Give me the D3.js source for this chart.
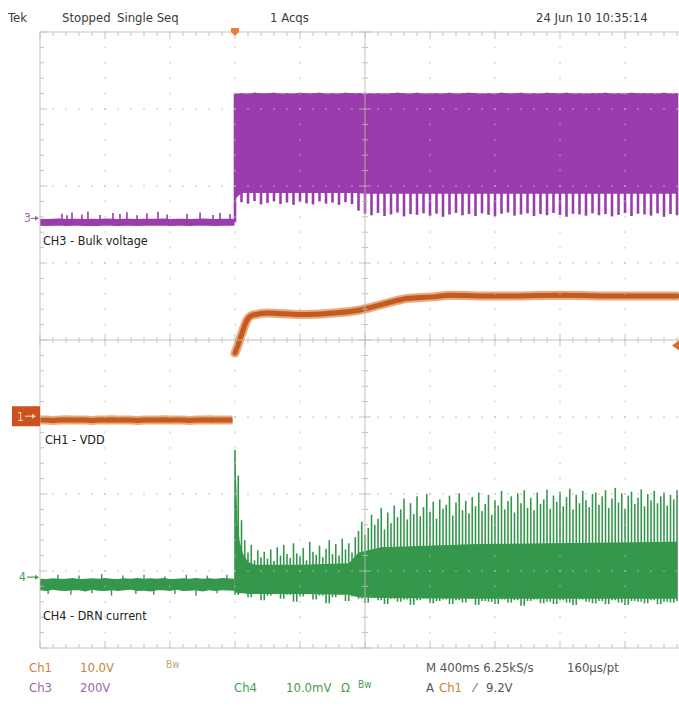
<!DOCTYPE html>
<html><head><meta charset="utf-8">
<script src="https://cdn.jsdelivr.net/npm/d3@7"></script>
<style>
html,body{margin:0;padding:0;background:#fff;}
svg{display:block;}
text{font-family:"Liberation Sans Narrow","Arial Narrow","DejaVu Sans Condensed",sans-serif;}
</style></head>
<body>
<svg id="c" width="679" height="707"></svg>
<script>
// ---------------- DATA ----------------
// time base: 400 ms/div, trigger at t=0 (3 divisions from left edge)
const timeDomain = [-1200, 2800];
const preStart = -1200, coarseDt = 40, fineDt = 20;

// CH3 bulk voltage (V), 200 V/div
const ch3Pre = [-10,-10.5,-10,-9.5,-10.5,-10,-10,-10.5,-10,-10.5,-9.5,-10,-10.5,-10,-10,-10.5,-10,-10,-10,-9.5,-10.5,-10,-10,-10.5,-10,-9.5,-10,-10.5,-10,-10];
const ch3PreSpikeT = [-1065,-1034,-1003,-942,-905,-831,-751,-708,-665,-603,-542,-474,-418,-295,-215,-135,-92,-31];
const ch3PreSpikeV = [12,8,15,10,18,9,14,11,16,8,13,17,10,12,15,9,14,11];
const ch3PostTop = [324,325,324,326,325,325,326,324,325,324,326,325,325,326,324,325,324,326,325,325,
  326,324,325,324,325,326,325,324,326,324,325,325,324,326,324,325,326,325,324,325,
  324,326,325,325,326,324,325,324,326,325,325,326,324,325,324,325,325,326,324,325,
  324,326,325,325,325,324,326,324,325];
const ch3PostTooth = [-10,42,38,45,36,40,44,37,41,35,43,39,36,44,38,41,35,42,37,
  20,12,8,14,6,10,15,5,11,9,13,7,12,4,10,14,8,11,6,13,9,5,12,15,7,10,13,6,11,8,
  14,9,4,12,10,7,13,8,11,5,9,14,6,12,10,7,13,4,11,8];
const ch3BaseT = [0, 40, 740, 780, 2720];
const ch3BaseV = [50, 66, 66, 64, 64];

// CH1 VDD (V), 10 V/div
const ch1Pre = [-0.5,-0.5,-0.55,-0.5,-0.45,-0.5,-0.5,-0.5,-0.55,-0.5,-0.5,-0.45,-0.5,-0.5,-0.5,-0.55,-0.5,-0.5,-0.5,-0.45,-0.5,-0.5,-0.5,-0.55,-0.5,-0.5,-0.45,-0.5,-0.5,-0.5];
const ch1PostT = [0,18,43,74,105,197,400,603,769,849,954,1058,1218,1323,1600,2000,2400,2720];
const ch1PostV = [8.2,9.2,10.8,12.5,13.1,13.4,13.2,13.4,13.8,14.2,14.8,15.3,15.5,15.7,15.6,15.7,15.6,15.6];

// CH4 DRN current (mV), 10 mV/div
const ch4PreHi = [-0.2,-0.25,-0.15,-0.2,-0.2,-0.1,-0.25,-0.2,-0.15,-0.2,-0.1,-0.2,-0.25,-0.15,-0.2,-0.1,-0.2,-0.15,-0.2,-0.1,-0.25,-0.2,-0.15,-0.2,-0.1,-0.2,-0.15,-0.2,-0.1,-0.2];
const ch4PreLo = [-1.7,-1.8,-1.65,-1.75,-1.8,-1.7,-1.7,-1.85,-1.65,-1.75,-1.8,-1.7,-1.8,-1.7,-1.65,-1.8,-1.75,-1.85,-1.7,-1.7,-1.8,-1.65,-1.8,-1.75,-1.7,-1.85,-1.7,-1.8,-1.7,-1.75];
const ch4PreSpikeT = [-1150,-1090,-1010,-960,-880,-820,-760,-690,-610,-560,-500,-430,-370,-300,-240,-170,-110,-50];
const ch4PreSpikeV = [-2.2,0.3,-2.3,0.2,-2.1,0.4,-2.4,0.2,-2.2,0.3,-2.3,0.1,-2.2,0.3,-2.4,0.2,-2.1,0.3];
const ch4PostHi = [16.5,13.2,7.4,4.8,3.2,4.2,2.2,
  3.5,2.6,3.3,2.4,3.6,2.1,3.9,2.8,4.2,3.0,2.5,4.4,3.1,2.7,3.8,2.2,4.6,3.3,2.9,4.1,2.6,3.7,4.8,3.0,4.3,2.8,5.0,3.6,4.4,3.2,5.2,
  6.0,7.2,5.5,6.4,8.1,6.8,7.6,9.0,6.2,8.4,7.0,9.3,7.8,
  8.8,10.2,7.5,9.6,8.2,10.5,7.9,9.1,10.8,8.5,9.8,7.6,10.1,8.9,9.4,10.6,8.0,9.7,10.9,8.7,
  9.9,8.3,10.4,9.2,11.0,8.6,9.5,10.7,8.1,10.0,9.3,11.2,8.8,9.9,10.5,8.4,10.9,9.6,11.3,9.0,
  10.3,8.7,11.0,9.5,10.1,11.4,8.9,10.6,9.8,11.1,9.2,10.4,11.5,8.8,10.7,9.6,11.2,10.0,9.1,10.8,
  11.0,9.4,10.5,11.3,9.0,10.2,11.6,9.7,10.9,8.9,10.6,11.1,9.5,10.3,11.4,9.2,10.8,10.0,11.2,9.6,10.5,11.0,9.3,10.7,10.1,11.3];
const ch4PostLo = [-2.3,-2.0,-2.6,-2.2,-3.0,-2.4,-2.1,-2.8,-2.3,-3.2,-2.5,-2.2,-2.9,-2.4,-3.4,-2.6,-2.3,-3.1,-2.5,-2.8,
  -3.3,-2.7,-3.0,-3.5,-2.8,-3.2,-2.9,-3.6,-3.0,-2.8,-3.4,-3.1,-2.9,-3.5,-3.0,-3.3,-2.8,-3.6,-3.1,-3.2,
  -3.5,-2.9,-3.3,-3.0,-3.7,-3.1,-2.9,-3.4,-3.2,-3.5,-3.0,-3.3,-3.6,-2.9,-3.2,-3.4,-3.1,-3.5,-3.0,-3.3,
  -3.6,-3.1,-3.2,-3.4,-3.0,-3.5,-3.2,-3.3,-3.1];
const ch4CoreT   = [0, 8, 16, 30, 50, 80, 120, 400, 700, 760, 900, 1500, 2720];
const ch4CoreTop = [16.0, 12.0, 7.0, 4.5, 3.0, 2.0, 1.6, 1.6, 1.8, 3.2, 3.9, 4.3, 4.6];
const ch4CoreBot = [-1.8,-2.0,-2.1,-2.1,-2.1,-2.2,-2.2,-2.2,-2.3,-2.6,-2.7,-2.8,-2.8];

// channel settings
const ch1Scale = 10, ch3Scale = 200, ch4Scale = 10;  // units per division
const ch1Pos = -0.99, ch3Pos = 1.58, ch4Pos = -3.08;  // ground marker (divisions)
const trigLevel = 9.2;

const topTexts = [["Tek",8],["Stopped",62],["Single Seq",117],["1 Acqs",270],["24 Jun 10 10:35:14",536]];

// ---------------- LAYOUT ----------------
const L = 40, R = 690, T = 32, B = 648;
const svg = d3.select("#c");
const x = d3.scaleLinear().domain(timeDomain).range([L, R]);
const yDiv = d3.scaleLinear().domain([-4, 4]).range([B, T]);
const chanScale = (s, p) => d3.scaleLinear().domain([(-4 - p) * s, (4 - p) * s]).range([B, T]);
const y1 = chanScale(ch1Scale, ch1Pos), y3 = chanScale(ch3Scale, ch3Pos), y4 = chanScale(ch4Scale, ch4Pos);

const purple = "#9a3cac", green = "#35974b", orange = "#c45a1e", orangeHalo = "#eaa97c";
svg.append("clipPath").attr("id","scr").append("rect").attr("x",L).attr("y",T).attr("width",R-L).attr("height",B-T);
const g = svg.append("g").attr("clip-path","url(#scr)");

const preT = i => preStart + i * coarseDt;
const postT = i => i * coarseDt;
const fineT = i => i * fineDt;

// ---- CH3 ----
const base3 = d3.scaleLinear().domain(ch3BaseT).range(ch3BaseV);
g.append("path").datum(ch3Pre).attr("fill","none").attr("stroke",purple).attr("stroke-width",7)
  .attr("d", d3.line().x((d,i)=>x(preT(i))+(i===ch3Pre.length-1?6:0)).y(d=>y3(d)));
g.selectAll(".s3").data(ch3PreSpikeT).join("line").attr("stroke",purple).attr("stroke-width",1.6)
  .attr("x1",d=>x(d)).attr("x2",d=>x(d)).attr("y1",(d,i)=>y3(ch3PreSpikeV[i])).attr("y2",y3(-10));
g.append("path").datum(ch3PostTop).attr("fill",purple)
  .attr("d", d3.area().x((d,i)=>x(postT(i))).y0((d,i)=>y3(base3(postT(i)))).y1(d=>y3(d)));
g.selectAll(".t3").data(ch3PostTooth).join("line").attr("stroke",purple).attr("stroke-width",2.6)
  .attr("x1",(d,i)=>x(postT(i))).attr("x2",(d,i)=>x(postT(i)))
  .attr("y1",(d,i)=>y3(ch3PostTop[i])).attr("y2",d=>y3(d));

// ---- CH1 ----
const l1pre = d3.line().x((d,i)=>x(preT(i))+ (i===ch1Pre.length-1? 4:0)).y(d=>y1(d));
const l1post = d3.line().x((d,i)=>x(ch1PostT[i])).y(d=>y1(d)).curve(d3.curveMonotoneX);
[[orangeHalo,9],[orange,5]].forEach(([c,w])=>{
  g.append("path").datum(ch1Pre).attr("fill","none").attr("stroke",c).attr("stroke-width",w).attr("d",l1pre);
  g.append("path").datum(ch1PostV).attr("fill","none").attr("stroke",c).attr("stroke-width",w).attr("stroke-linecap","round").attr("d",l1post);
});

// ---- CH4 ----
g.append("path").datum(ch4PreHi).attr("fill",green)
  .attr("d", d3.area().x((d,i)=>x(preT(i))+(i===ch4PreHi.length-1?6:0)).y0((d,i)=>y4(ch4PreLo[i])).y1(d=>y4(d)));
g.selectAll(".p4").data(ch4PreSpikeT).join("line").attr("stroke",green).attr("stroke-width",1.4)
  .attr("x1",d=>x(d)).attr("x2",d=>x(d)).attr("y1",(d,i)=>y4(ch4PreSpikeV[i])).attr("y2",y4(-1));
g.append("path").datum(ch4CoreTop).attr("fill",green)
  .attr("d", d3.area().x((d,i)=>x(ch4CoreT[i])).y0((d,i)=>y4(ch4CoreBot[i])).y1(d=>y4(d)));
g.selectAll(".h4").data(ch4PostHi).join("line").attr("stroke",green).attr("stroke-width",1.6)
  .attr("x1",(d,i)=>x(fineT(i))).attr("x2",(d,i)=>x(fineT(i)))
  .attr("y1",d=>y4(d)).attr("y2",(d,i)=>y4(ch4PostLo[Math.min(ch4PostLo.length-1, Math.floor(i/2))]));

// ---------------- GRATICULE (on top) ----------------
const gc = "#bdbab0";
const gr = svg.append("g").attr("stroke",gc).attr("stroke-width",1).attr("opacity",0.85);
const xMinor = d3.range(0, 51).map(k => timeDomain[0] + k * 80);
const yMinor = d3.range(0, 41).map(k => -4 + k * 0.2);
d3.range(1,10).filter(k=>k!==5).forEach(k=>{
  const xx = x(timeDomain[0] + k*400);
  yMinor.forEach(v=>gr.append("line").attr("x1",xx).attr("x2",xx).attr("y1",yDiv(v)-1).attr("y2",yDiv(v)+1));
});
d3.range(1,8).filter(k=>k!==4).forEach(k=>{
  const yy = yDiv(-4 + k);
  xMinor.forEach(t=>gr.append("line").attr("y1",yy).attr("y2",yy).attr("x1",x(t)-1).attr("x2",x(t)+1));
});
gr.append("line").attr("x1",L).attr("x2",R).attr("y1",T).attr("y2",T);
gr.append("line").attr("x1",L).attr("x2",R).attr("y1",B).attr("y2",B);
gr.append("line").attr("x1",L).attr("x2",L).attr("y1",T).attr("y2",B);
xMinor.forEach((t,k)=>{ const len = k%5===0?7:4;
  gr.append("line").attr("x1",x(t)).attr("x2",x(t)).attr("y1",T).attr("y2",T+len);
  gr.append("line").attr("x1",x(t)).attr("x2",x(t)).attr("y1",B).attr("y2",B-len);
  gr.append("line").attr("x1",x(t)).attr("x2",x(t)).attr("y1",yDiv(0)-len+1).attr("y2",yDiv(0)+len-1);
});
yMinor.forEach((v,k)=>{ const len = k%5===0?7:4;
  gr.append("line").attr("y1",yDiv(v)).attr("y2",yDiv(v)).attr("x1",L).attr("x2",L+len);
  gr.append("line").attr("y1",yDiv(v)).attr("y2",yDiv(v)).attr("x1",x(800)-len+1).attr("x2",x(800)+len-1);
});
gr.append("line").attr("x1",L).attr("x2",R).attr("y1",yDiv(0)).attr("y2",yDiv(0));
gr.append("line").attr("x1",x(800)).attr("x2",x(800)).attr("y1",T).attr("y2",B);

// ---------------- MARKERS ----------------
const tx = x(0);
svg.append("path").attr("d",`M${tx-4},${T-4} L${tx+4},${T-4} L${tx+4},${T} L${tx},${T+4} L${tx-4},${T} Z`).attr("fill","#f07a3a");
const ty = y1(trigLevel);
svg.append("path").attr("d",`M672,${ty} L679,${ty-5} L679,${ty+5} Z`).attr("fill","#e06a2a");
const arrow = (x0,x1,yy,c)=>{ svg.append("line").attr("x1",x0).attr("x2",x1-3).attr("y1",yy).attr("y2",yy).attr("stroke",c).attr("stroke-width",1.2);
  svg.append("path").attr("d",`M${x1},${yy} L${x1-4},${yy-2.5} L${x1-4},${yy+2.5} Z`).attr("fill",c); };
svg.append("text").attr("x",24).attr("y",y3(0)+4).attr("font-size",12).attr("fill","#9a68b0").text("3");
arrow(31,39,y3(0),"#9a68b0");
svg.append("rect").attr("x",12).attr("y",y1(0)-10).attr("width",28).attr("height",20).attr("fill","#c9521d");
svg.append("text").attr("x",17).attr("y",y1(0)+4.5).attr("font-size",12).attr("fill","#f4d0b0").text("1");
arrow(25,36,y1(0),"#f4d0b0");
svg.append("text").attr("x",19).attr("y",y4(0)+4).attr("font-size",12).attr("fill","#4a9a50").text("4");
arrow(27,39,y4(0),"#4a9a50");

// ---------------- TEXT ----------------
topTexts.forEach(([s,xx])=>svg.append("text").attr("x",xx).attr("y",22).attr("font-size",13).attr("fill","#3a3a3a").text(s));
const lab = (s,xx,yy)=>svg.append("text").attr("x",xx).attr("y",yy).attr("font-size",12.5).attr("fill","#222").text(s);
lab("CH3 - Bulk voltage",43,245);
lab("CH1 - VDD",45,444);
lab("CH4 - DRN current",43,620);

const cO="#c8843c", cP="#9a68b0", cG="#4a9a50", cK="#555";
const bt = (s,xx,yy,c,fs)=>svg.append("text").attr("x",xx).attr("y",yy).attr("font-size",fs||13).attr("fill",c).text(s);
bt("Ch1",29,672,cO); bt("10.0V",80,672,cO); bt("Bw",166,668,"#c8a070",10);
bt("M 400ms 6.25kS/s",426,672,cK); bt("160\u03bcs/pt",567,672,cK);
bt("Ch3",29,692,cP); bt("200V",80,692,cP);
bt("Ch4",234,692,cG); bt("10.0mV",286,692,cG); bt("\u03a9",341,692,cG); bt("Bw",358,688,cG,10);
bt("A",426,692,cK); bt("Ch1",439,692,cO); bt("\u2044",474,692,cK); bt("9.2V",486,692,cK);
</script>
</body></html>
